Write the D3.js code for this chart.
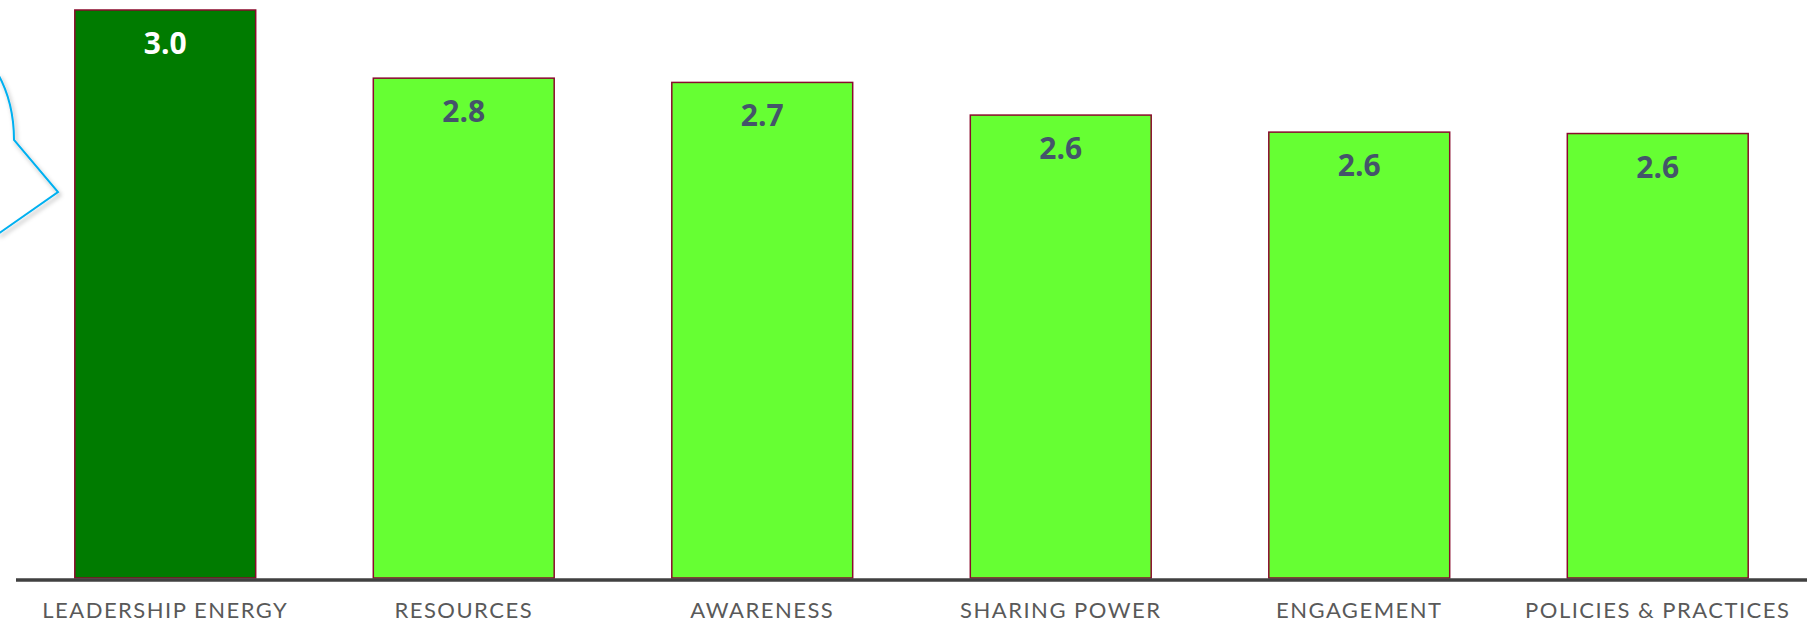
<!DOCTYPE html>
<meta charset="utf-8">
<style>
body { margin: 0; background: #fff; }
.cat { font-family: "Lato", "Open Sans", sans-serif; font-weight: 400; fill: #595959; }
.val { font-family: "Open Sans", sans-serif; font-weight: 700; }
</style>
<body>
<svg width="1812" height="622"></svg>
<script src="https://cdn.jsdelivr.net/npm/d3@7"></script>
<script>
    // scores on a 1-4 scale
    var categories = ["LEADERSHIP ENERGY", "RESOURCES", "AWARENESS", "SHARING POWER", "ENGAGEMENT", "POLICIES & PRACTICES"];
    var scores = [3.0, 2.76, 2.745, 2.63, 2.57, 2.565];
    var highlighted = "LEADERSHIP ENERGY";

    var svg = d3.select("svg");
    var baseline = 578;

    var x = d3.scaleBand()
        .domain(categories)
        .range([16, 1807])
        .paddingInner(0.394)
        .paddingOuter(0.197);

    var y = d3.scaleLinear()
        .domain([1, 3])
        .range([baseline, 10]);

    var data = categories.map(function(c, i) { return {cat: c, score: scores[i]}; });

    // callout shadow
    var defs = svg.append("defs");
    var f = defs.append("filter").attr("id", "shadow").attr("x", "-50%").attr("y", "-50%").attr("width", "200%").attr("height", "200%");
    f.append("feDropShadow").attr("dx", 2).attr("dy", 3).attr("stdDeviation", 2)
        .attr("flood-color", "#000").attr("flood-opacity", 0.3);

    svg.append("path")
        .attr("d", "M-2,74 C8,92 14,115 14,140 L58,192 L-2,234")
        .attr("fill", "none")
        .attr("stroke", "#00B0F0")
        .attr("stroke-width", 2)
        .attr("filter", "url(#shadow)");

    svg.selectAll(".bar")
        .data(data)
        .enter().append("rect")
        .attr("class", "bar")
        .attr("x", function(d) { return x(d.cat); })
        .attr("y", function(d) { return y(d.score); })
        .attr("width", x.bandwidth())
        .attr("height", function(d) { return baseline - y(d.score); })
        .attr("fill", function(d) { return d.cat == highlighted ? "#007B00" : "#66FF33"; })
        .attr("stroke", "#8A0A2C")
        .attr("stroke-width", 1.5);

    svg.selectAll(".val")
        .data(data)
        .enter().append("text")
        .attr("class", "val")
        .attr("x", function(d) { return x(d.cat) + x.bandwidth() / 2; })
        .attr("y", function(d) { return y(d.score) + 44; })
        .attr("text-anchor", "middle")
        .style("font-size", "30px")
        .attr("fill", function(d) { return d.cat == highlighted ? "#ffffff" : "#44546A"; })
        .text(function(d) { return d.score.toFixed(1); });

    var axis = svg.append("g")
        .attr("transform", "translate(0," + baseline + ")")
        .call(d3.axisBottom(x).tickSize(0).tickPadding(0));
    axis.select(".domain")
        .attr("d", "M16,2H1807")
        .attr("stroke", "#404040")
        .attr("stroke-width", 3.5);
    axis.selectAll("text")
        .attr("class", "cat")
        .attr("dy", null)
        .attr("y", 40)
        .attr("fill", null)
        .style("font-size", "22px")
        .style("letter-spacing", "1.5px");
    axis.attr("font-family", null).attr("font-size", null);
</script>
</body>
